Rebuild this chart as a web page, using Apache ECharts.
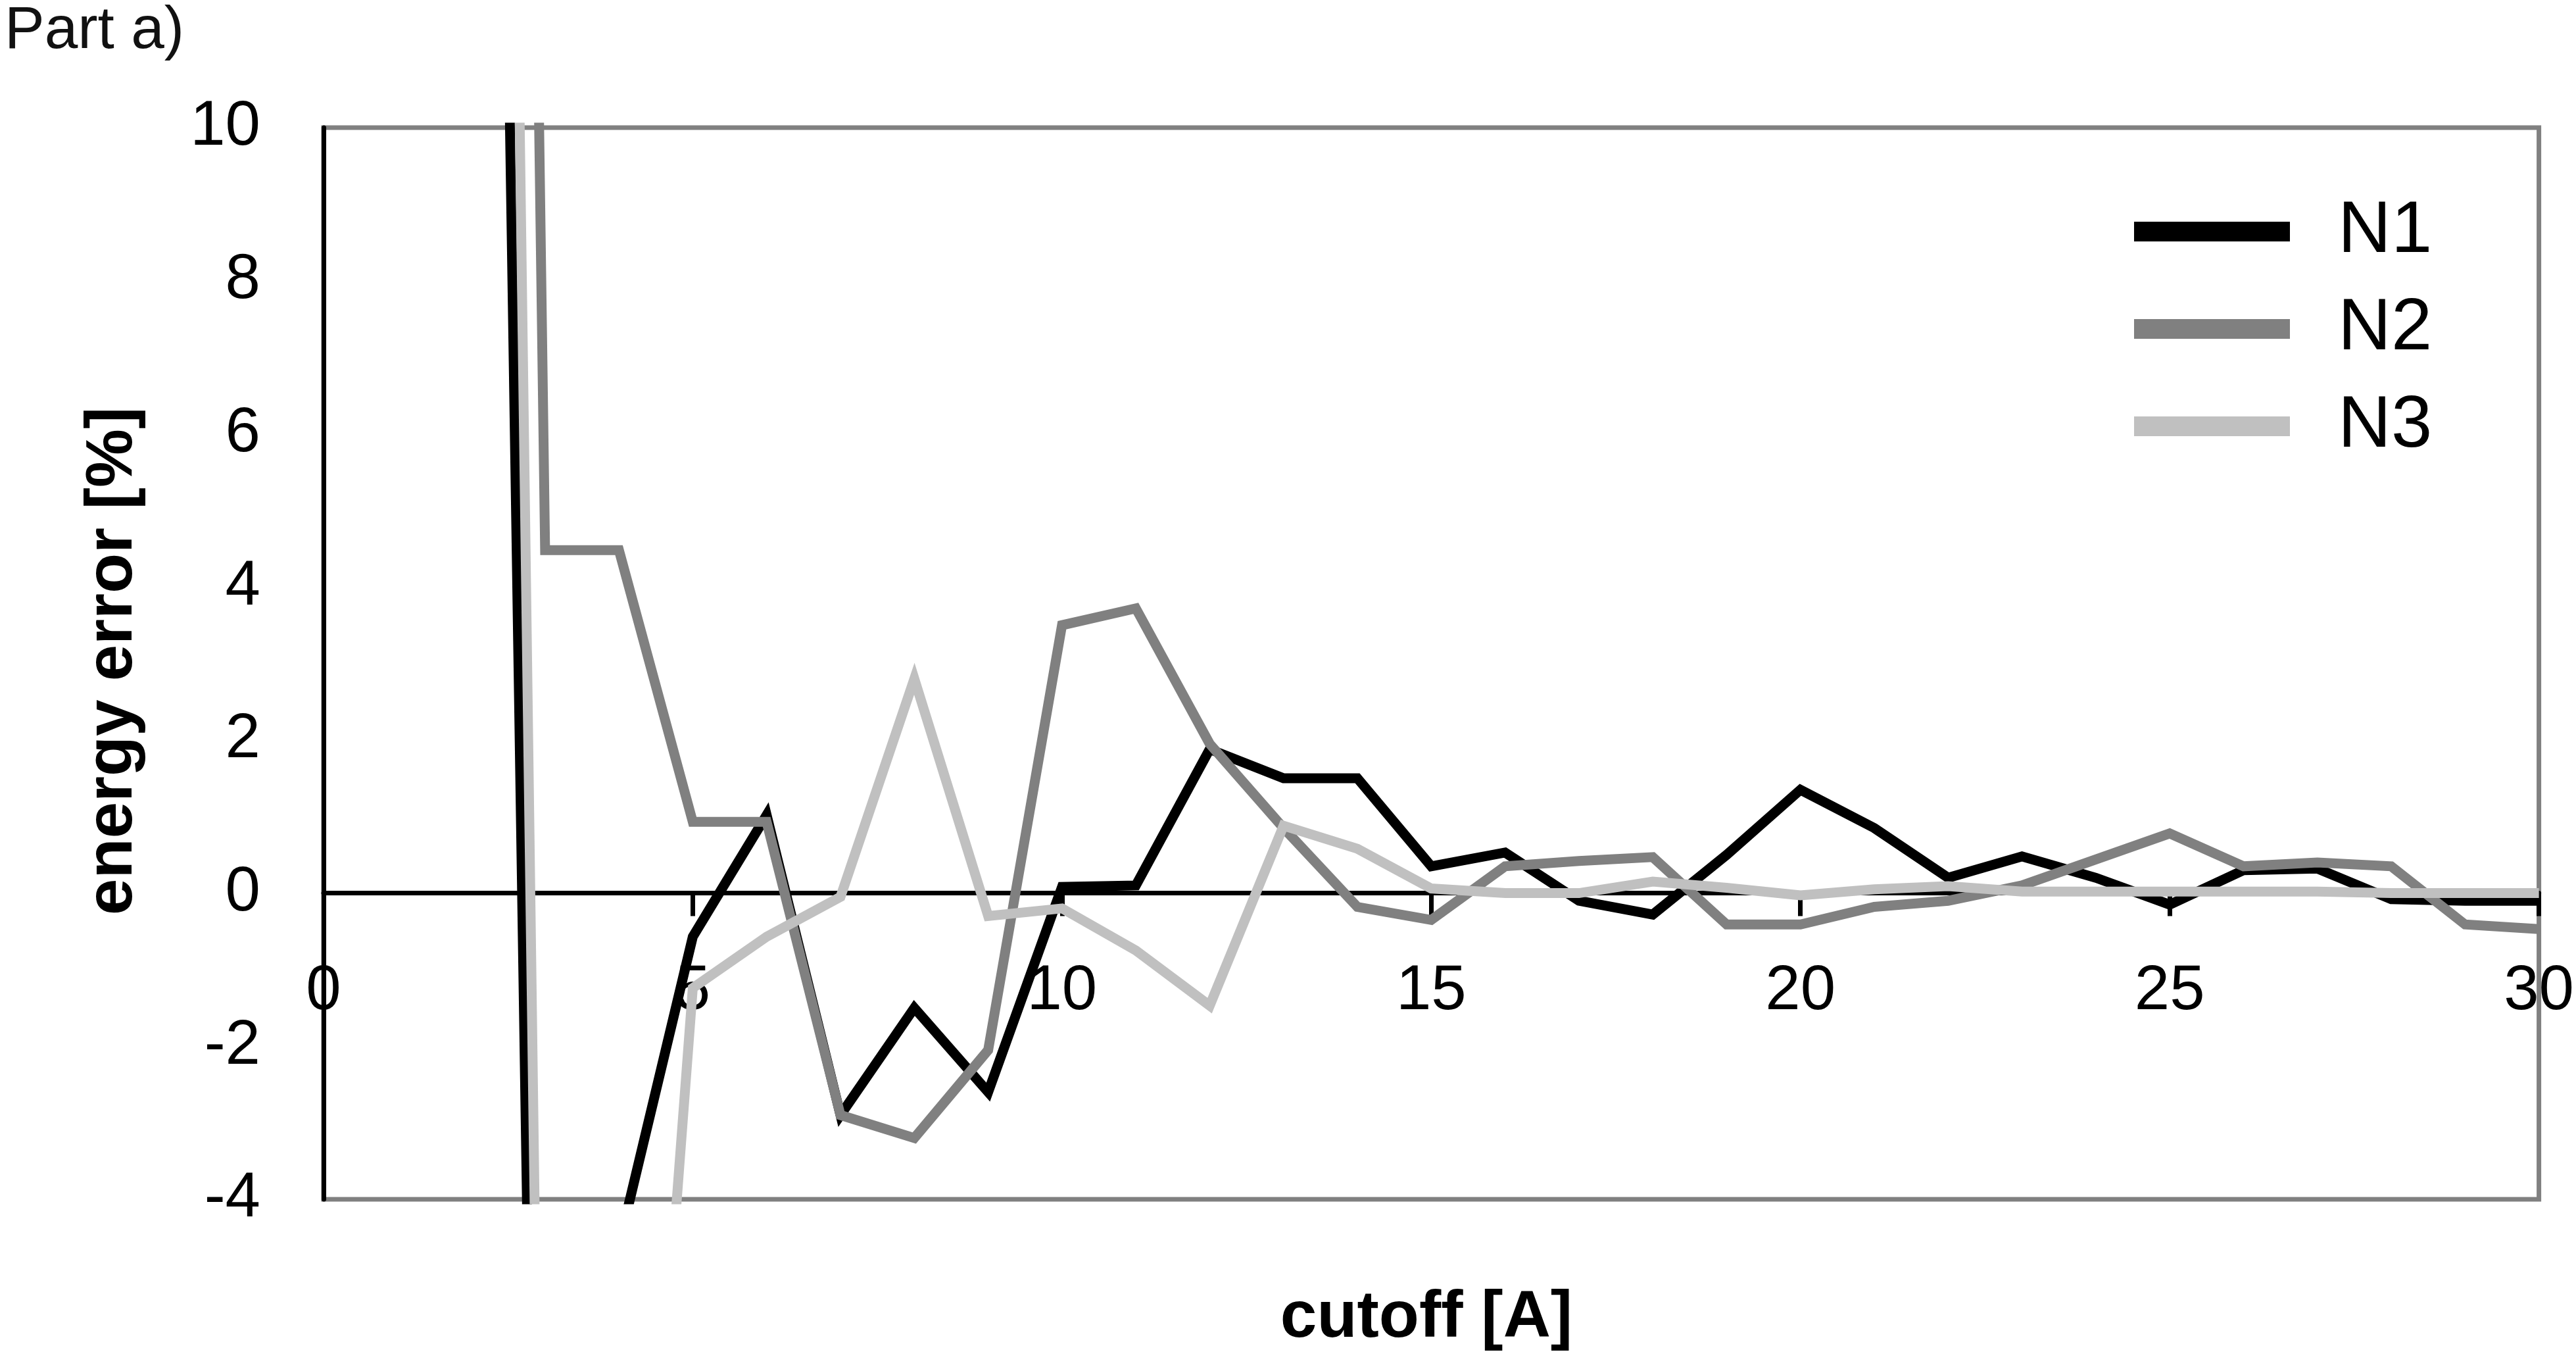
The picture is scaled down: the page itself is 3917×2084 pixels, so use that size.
<!DOCTYPE html>
<html>
<head>
<meta charset="utf-8">
<script src="https://cdn.jsdelivr.net/npm/echarts@6/dist/echarts.min.js"></script>
<style>html,body{margin:0;padding:0;background:#fff;}#c{width:3917px;height:2084px;}</style>
</head>
<body>
<div id="c"></div>
<script>
// cutoff [A]
const cutoff = [2,3,4,5,6,7,8,9,10,11,12,13,14,15,16,17,18,19,20,21,22,23,24,25,26,27,28,29,30];
// energy error [%]
const N1 = [42,-19,-4.6,-0.57,1.02,-2.9,-1.5,-2.6,0.08,0.1,1.88,1.5,1.5,0.35,0.53,-0.1,-0.28,0.5,1.35,0.85,0.2,0.48,0.2,-0.15,0.3,0.32,-0.08,-0.1,-0.1];
const N2 = [73,4.48,4.48,0.93,0.93,-2.9,-3.2,-2.05,3.5,3.72,1.95,0.85,-0.18,-0.35,0.35,0.42,0.47,-0.41,-0.41,-0.18,-0.1,0.1,0.44,0.78,0.35,0.4,0.35,-0.41,-0.47];
const N3 = [56,-14,-14,-1.24,-0.57,-0.05,2.8,-0.3,-0.2,-0.75,-1.47,0.88,0.58,0.06,0.0,0.0,0.15,0.07,-0.03,0.05,0.09,0.02,0.02,0.02,0.02,0.02,0.0,0.0,0.0];
const seriesNames = ['N1','N2','N3'];
const seriesColors = ['#000000','#808080','#c0c0c0'];
const xTicks = {min:0, max:30, step:5};
const yTicks = {min:-4, max:10, step:2};

const FF = '"Liberation Sans", Arial, sans-serif';
const pairs = arr => cutoff.map((x,i) => [x, arr[i]]);
const allData = [N1, N2, N3];

const chart = echarts.init(document.getElementById('c'), null, {renderer:'canvas'});
chart.setOption({
  animation: false,
  backgroundColor: '#ffffff',
  grid: {left:492, right:54, top:194, bottom:261, show:true, borderColor:'#808080', borderWidth:7, backgroundColor:'transparent'},
  xAxis: {
    type:'value', min:xTicks.min, max:xTicks.max, interval:xTicks.step,
    axisLine:{show:true, onZero:true, lineStyle:{color:'#000', width:7}},
    axisTick:{show:true, inside:false, length:35, lineStyle:{color:'#000', width:7}},
    axisLabel:{show:true, fontSize:96, fontFamily:FF, color:'#000', margin:-363, showMinLabel:true, showMaxLabel:true},
    splitLine:{show:false}
  },
  yAxis: {
    type:'value', min:yTicks.min, max:yTicks.max, interval:yTicks.step,
    axisLine:{show:true, onZero:false, lineStyle:{color:'#000', width:7}},
    axisTick:{show:false},
    axisLabel:{show:true, fontSize:96, fontFamily:FF, color:'#000', margin:96},
    splitLine:{show:false}
  },
  legend: {
    data: seriesNames,
    orient:'vertical', left:3245, top:296, padding:0,
    icon:'rect', itemWidth:237, itemHeight:30, itemGap:36,
    textStyle:{fontSize:112, fontFamily:FF, color:'#000', lineHeight:112, padding:[0,0,0,68]}
  },
  series: seriesNames.map((name, i) => ({
    name: name, type:'line', data: pairs(allData[i]),
    showSymbol:false, symbol:'none', clip:true, z: 2 + i,
    color: seriesColors[i],
    itemStyle:{color: seriesColors[i]},
    lineStyle:{color: seriesColors[i], width:15, join:'miter'},
    emphasis:{disabled:true}
  })),
  graphic: [
    {type:'text', x:7, y:48, style:{text:'Part a)', font:'91px ' + FF, fill:'#111', align:'left', verticalAlign:'middle', textAlign:'left', textVerticalAlign:'middle'}},
    {type:'text', x:2169, y:2004, style:{text:'cutoff [A]', font:'bold 100px ' + FF, fill:'#000', align:'center', verticalAlign:'middle', textAlign:'center', textVerticalAlign:'middle'}},
    {type:'text', x:172, y:1005, rotation:Math.PI/2, style:{text:'energy error [%]', font:'bold 100px ' + FF, fill:'#000', align:'center', verticalAlign:'middle', textAlign:'center', textVerticalAlign:'middle'}}
  ]
});
</script>
</body>
</html>
